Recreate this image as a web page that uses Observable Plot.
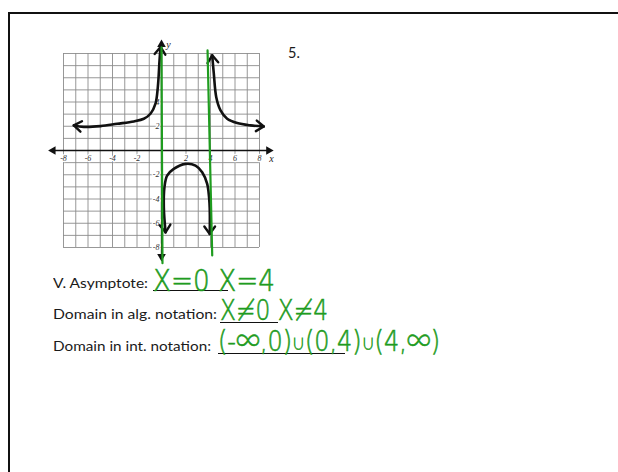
<!DOCTYPE html>
<html>
<head>
<meta charset="utf-8">
<script src="https://cdn.jsdelivr.net/npm/d3@7"></script>
<script src="https://cdn.jsdelivr.net/npm/@observablehq/plot@0.6"></script>
<style>
  html, body { margin: 0; padding: 0; background: #fff; }
  #page { position: relative; width: 618px; height: 472px; overflow: hidden; background: #fff; }
  #frame { position: absolute; left: 8px; top: 12px; width: 640px; height: 500px;
           border-top: 2px solid #111; border-left: 2px solid #111; }
  #graph { position: absolute; left: 30px; top: 30px; }
  .label { position: absolute; font-family: Lato, "Open Sans", sans-serif; color: #1a1a1a;
           white-space: nowrap; line-height: 1; transform-origin: 0 0; }
  .rule { position: absolute; height: 0; border-top: 1px solid #111; }
  .ink { position: absolute; font-family: "DejaVu Sans", "Noto Sans CJK SC", sans-serif; font-weight: 200;
         color: #1f9c1f; -webkit-text-stroke: 0.6px #1f9c1f; white-space: nowrap; line-height: 0.7;
         transform-origin: 0 0; }
  .ink .small { font-size: 0.54em; line-height: 0; position: relative; top: -0.13em; }
  .base { display: inline-block; width: 0; height: 0; vertical-align: baseline; }
</style>
</head>
<body>
<div id="page">
  <div id="frame"></div>
  <div id="graph"></div>
</div>
<script>
// ---- worksheet data ----
const problemNumber = "5.";
const prompts = ["V. Asymptote:", "Domain in alg. notation:", "Domain in int. notation:"];
const answers = ["X=0 X=4", "X≠0 X≠4", "(-∞,0)∪(0,4)∪(4,∞)"];

// axis tick labels
const xTicks = [-8, -6, -4, -2, 2, 4, 6, 8];
const yTicks = [4, 2, -2, -4, -6, -8];
const gridValues = d3.range(-8, 9);

// the three branches of the graphed function
const leftX   = [-7.16, -6.34, -4.98, -3.62, -2.26, -1.44, -0.9, -0.49, -0.3, -0.16, -0.08];
const leftY   = [2.07, 1.95, 2.01, 2.2, 2.4, 2.62, 3.03, 3.86, 5.23, 7.44, 8.54];
const middleX = [0.33, 0.19, 0.24, 0.46, 1.0, 1.96, 2.78, 3.32, 3.73, 3.92, 3.94];
const middleY = [-6.75, -4.69, -3.03, -2.07, -1.52, -1.1, -1.24, -1.79, -2.75, -4.4, -6.88];
const rightX  = [4.14, 4.27, 4.47, 4.82, 5.36, 6.18, 7.27, 8.35];
const rightY  = [7.85, 6.34, 4.4, 3.31, 2.62, 2.26, 2.07, 1.98];

// hand-drawn vertical asymptotes x = 0 and x = 4
const asym0X = [0.0, 0.08];
const asym0Y = [8.5, -9.3];
const asym4X = [3.76, 4.14];
const asym4Y = [8.25, -8.66];

// ---- build tables ----
const rows = (name, xs, ys) => xs.map((x, i) => ({name, x, y: ys[i]}));
const branches = [
  ...rows("left", leftX, leftY),
  ...rows("middle", middleX, middleY),
  ...rows("right", rightX, rightY)
];
const asymptotes = [...rows("x=0", asym0X, asym0Y), ...rows("x=4", asym4X, asym4Y)];

// open chevron heads at both ends of a branch, pointing along the curve
function chevrons(name, xs, ys, len = 0.75, spread = 0.62) {
  const out = [];
  const n = xs.length;
  for (const [i, j] of [[0, 1], [n - 1, n - 2]]) {
    const dx = xs[i] - xs[j], dy = ys[i] - ys[j];
    const L = Math.hypot(dx, dy), ux = dx / L, uy = dy / L;
    const arm = s => {
      const c = Math.cos(s * spread), sn = Math.sin(s * spread);
      return {x: xs[i] - len * (ux * c - uy * sn), y: ys[i] - len * (ux * sn + uy * c)};
    };
    const key = `${name}-${i}`;
    out.push({key, ...arm(1)}, {key, x: xs[i], y: ys[i]}, {key, ...arm(-1)});
  }
  return out;
}
const heads = [
  ...chevrons("left", leftX, leftY),
  ...chevrons("middle", middleX, middleY),
  ...chevrons("right", rightX, rightY)
];

const axisLines = [
  {x1: -9.0, y1: 0, x2: 8.9, y2: 0},
  {x1: 0, y1: -8.9, x2: 0, y2: 8.9}
];
const axisHeads = [
  {x: 8.75, y: 0, rotate: 90},
  {x: -8.85, y: 0, rotate: -90},
  {x: 0, y: 8.75, rotate: 0},
  {x: 0, y: -8.75, rotate: 180}
];

const tickFont = {fontSize: 8, fontFamily: "Liberation Serif, serif", fontStyle: "italic",
                  fill: "#333", stroke: "white", strokeWidth: 2.5, paintOrder: "stroke"};

const chart = Plot.plot({
  width: 260,
  height: 250,
  marginLeft: 33,
  marginRight: 31,
  marginTop: 23,
  marginBottom: 33,
  x: {domain: [-8, 8], axis: null},
  y: {domain: [-8, 8], axis: null},
  style: {background: "transparent", overflow: "visible"},
  marks: [
    Plot.gridX(gridValues, {stroke: "#8c8c8c", strokeOpacity: 1, strokeWidth: 0.9}),
    Plot.gridY(gridValues, {stroke: "#8c8c8c", strokeOpacity: 1, strokeWidth: 0.9}),
    Plot.link(axisLines, {x1: "x1", y1: "y1", x2: "x2", y2: "y2", stroke: "#111", strokeWidth: 1.3}),
    Plot.dot(axisHeads, {x: "x", y: "y", rotate: "rotate", symbol: "triangle", r: 3.2, fill: "#111", stroke: "none"}),
    Plot.text(xTicks, {x: d => d, y: 0, dy: 8, text: d => String(d), ...tickFont}),
    Plot.text(yTicks, {x: 0, y: d => d, dx: -2, textAnchor: "end", text: d => String(d), ...tickFont}),
    Plot.text(["x"], {x: 8.9, y: 0, dy: 8, dx: 1, fontSize: 10, fontFamily: "Liberation Serif, serif", fontStyle: "italic", fill: "#222"}),
    Plot.text(["y"], {x: 0, y: 8.7, dx: 7, fontSize: 10, fontFamily: "Liberation Serif, serif", fontStyle: "italic", fill: "#222"}),
    Plot.line(branches, {x: "x", y: "y", z: "name", curve: "catmull-rom", stroke: "#111",
                         strokeWidth: 2.6, strokeLinecap: "round", strokeLinejoin: "round"}),
    Plot.line(heads, {x: "x", y: "y", z: "key", stroke: "#111", strokeWidth: 2.4,
                      strokeLinecap: "round", strokeLinejoin: "round"}),
    Plot.line(asymptotes, {x: "x", y: "y", z: "name", stroke: "#1f9c1f", strokeWidth: 2.2, strokeLinecap: "round"})
  ]
});
document.getElementById("graph").appendChild(chart);

// ---- worksheet text ----
const page = document.getElementById("page");

// places a line of text with its baseline at `baseline`, squeezed to `width` if given;
// union signs are written small, as in the handwriting
function addText(cls, text, left, baseline, size, width) {
  const el = document.createElement("div");
  el.className = cls;
  el.style.fontSize = size + "px";
  el.style.left = left + "px";
  el.style.top = "0px";
  text.split("∪").forEach((part, k) => {
    if (k > 0) {
      const u = document.createElement("span");
      u.className = "small";
      u.textContent = "∪";
      el.appendChild(u);
    }
    el.appendChild(document.createTextNode(part));
  });
  const mark = document.createElement("span");
  mark.className = "base";
  el.appendChild(mark);
  page.appendChild(el);
  el.style.top = (baseline - mark.offsetTop) + "px";
  if (width) {
    const w = el.getBoundingClientRect().width;
    el.style.transform = `scaleX(${width / w})`;
  }
  return el;
}

// problem number
addText("label", problemNumber, 288, 58, 14.5, null);

// prompt lines: [left, baseline, width]
const promptLayout = [[53, 288, 95], [53, 319, 164], [53, 351, 158]];
prompts.forEach((p, i) => {
  const [l, b, w] = promptLayout[i];
  addText("label", p, l, b, 14, w);
});

// answer blanks: [left, top, width]
const blanks = [[153, 290, 75], [220, 322, 58], [218, 353, 127]];
blanks.forEach(([l, t, w]) => {
  const el = document.createElement("div");
  el.className = "rule";
  el.style.left = l + "px";
  el.style.top = t + "px";
  el.style.width = w + "px";
  page.appendChild(el);
});

// handwritten answers: [left, baseline, size, width]
const answerLayout = [[153, 291, 30, 122], [220, 320, 29, 108], [218, 351, 28, 222]];
answers.forEach((a, i) => {
  const [l, b, s, w] = answerLayout[i];
  addText("ink", a, l, b, s, w);
});
</script>
</body>
</html>
